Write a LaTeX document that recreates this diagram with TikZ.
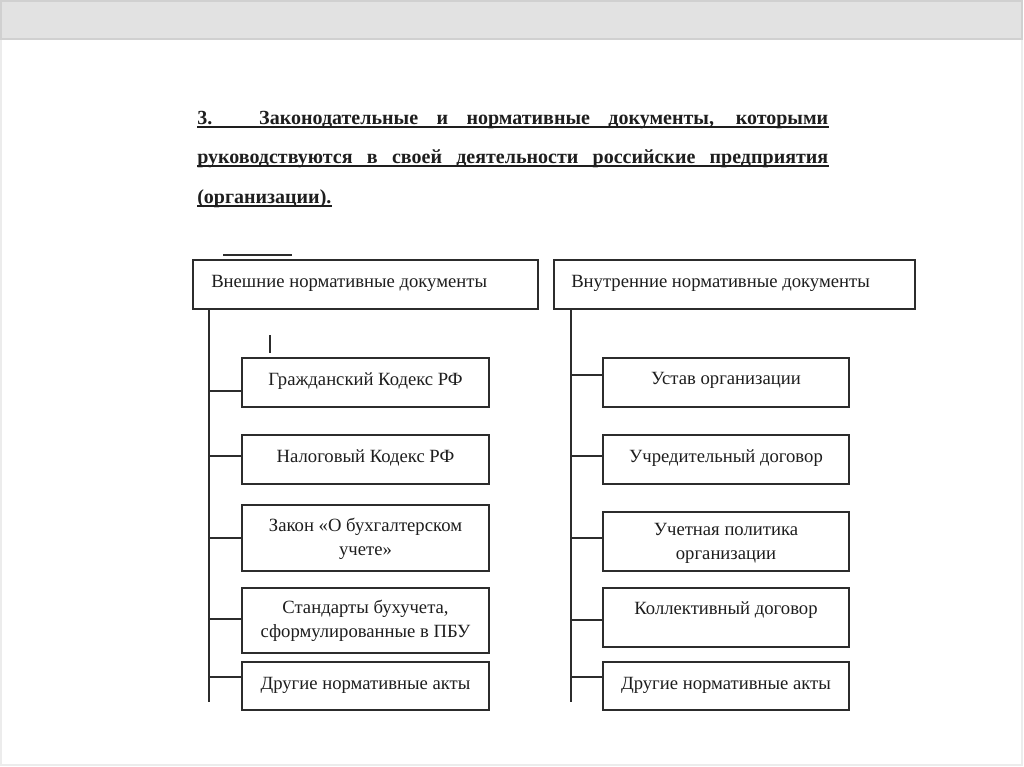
\documentclass[tikz,border=0pt]{standalone}
\usepackage{fontspec}
\setmainfont{Liberation Serif}
\definecolor{ink}{HTML}{1E1E1E}
\definecolor{edge}{HTML}{2C2C2C}
\definecolor{barfill}{HTML}{E2E2E2}
\definecolor{barline}{HTML}{D0D0D0}
\definecolor{frameline}{HTML}{ECECEC}
\newcommand\bx[5]{\node[box, minimum width={(#4-#2)*0.75pt}, minimum height={(#5-#3)*0.75pt}] (#1) at ({(#2+#4)/2},{(#3+#5)/2}) {};}
\begin{document}
\begin{tikzpicture}[x=0.75pt,y=-0.75pt,
  box/.style={draw=edge, line width=1.3pt, inner sep=0pt, fill=white},
  conn/.style={draw=edge, line width=1.3pt},
  txt/.style={text=ink, font=\fontsize{14}{18}\selectfont, inner sep=0pt, align=center},
  htxt/.style={text=ink, font=\fontsize{14}{18}\selectfont, inner sep=0pt, anchor=west},
  ttl/.style={text=ink, font=\fontsize{15}{18}\selectfont\bfseries, inner sep=0pt, anchor=base west},
  uline/.style={draw=ink, line width=1.4pt}]
\useasboundingbox (0,0) rectangle (1024,767);
\fill[white] (0,0) rectangle (1024,767);
\draw[frameline, line width=0.8pt] (1,1) rectangle (1022,765);
\draw[barline, fill=barfill, line width=0.8pt] (1,1) rectangle (1022,39);

% title
\node[ttl] (t1) at (197,124) {\makebox[473.25pt][s]{3. Законодательные и нормативные документы, которыми}};
\node[ttl] (t2) at (197,163) {\makebox[473.25pt][s]{руководствуются в своей деятельности российские предприятия}};
\node[ttl] (t3) at (197,203) {(организации).};
\foreach \t in {t1,t2,t3}{
  \draw[uline] ([yshift=-2.4pt]\t.base west) -- ([yshift=-2.4pt]\t.base east);
}

% stray marks
\coordinate (m1a) at (223,255); \coordinate (m1b) at (292,255);
\draw[edge, line width=1pt] (m1a) -- (m1b);
\coordinate (m2a) at (270,335); \coordinate (m2b) at (270,353);
\draw[edge, line width=2pt] (m2a) -- (m2b);

% headers
\bx{hl}{193}{260}{538}{309}
\bx{hr}{554}{260}{915}{309}
\node[htxt] (hlt) at (211,283) {Внешние нормативные документы};
\node[htxt] (hrt) at (571,283) {Внутренние нормативные документы};

% left children
\bx{l1}{242}{358}{489}{407}
\bx{l2}{242}{435}{489}{484}
\bx{l3}{242}{505}{489}{571}
\bx{l4}{242}{588}{489}{653}
\bx{l5}{242}{662}{489}{710}
\node[txt] (l1t) at (365.5,381) {Гражданский Кодекс РФ};
\node[txt] (l2t) at (365.5,458) {Налоговый Кодекс РФ};
\node[txt] (l3t) at (365.5,539) {Закон «О бухгалтерском\\учете»};
\node[txt] (l4t) at (365.5,621) {Стандарты бухучета,\\сформулированные в ПБУ};
\node[txt] (l5t) at (365.5,685) {Другие нормативные акты};

% right children
\bx{r1}{603}{358}{849}{407}
\bx{r2}{603}{435}{849}{484}
\bx{r3}{603}{512}{849}{571}
\bx{r4}{603}{588}{849}{647}
\bx{r5}{603}{662}{849}{710}
\node[txt] (r1t) at (726,380) {Устав организации};
\node[txt] (r2t) at (726,458) {Учредительный договор};
\node[txt] (r3t) at (726,543) {Учетная политика\\организации};
\node[txt] (r4t) at (726,610) {Коллективный договор};
\node[txt] (r5t) at (726,685) {Другие нормативные акты};

% left connectors
\coordinate (ls) at (209,702);
\draw[conn] (hl.south -| ls) -- (ls);
\foreach \n/\y in {l1/391,l2/456,l3/538,l4/619,l5/677}{
  \coordinate (b\n) at (209,\y);
  \draw[conn] (b\n) -- (b\n -| \n.west);
}
% right connectors
\coordinate (rs) at (571,702);
\draw[conn] (hr.south -| rs) -- (rs);
\foreach \n/\y in {r1/375,r2/456,r3/538,r4/620,r5/677}{
  \coordinate (b\n) at (571,\y);
  \draw[conn] (b\n) -- (b\n -| \n.west);
}
\end{tikzpicture}
\end{document}
